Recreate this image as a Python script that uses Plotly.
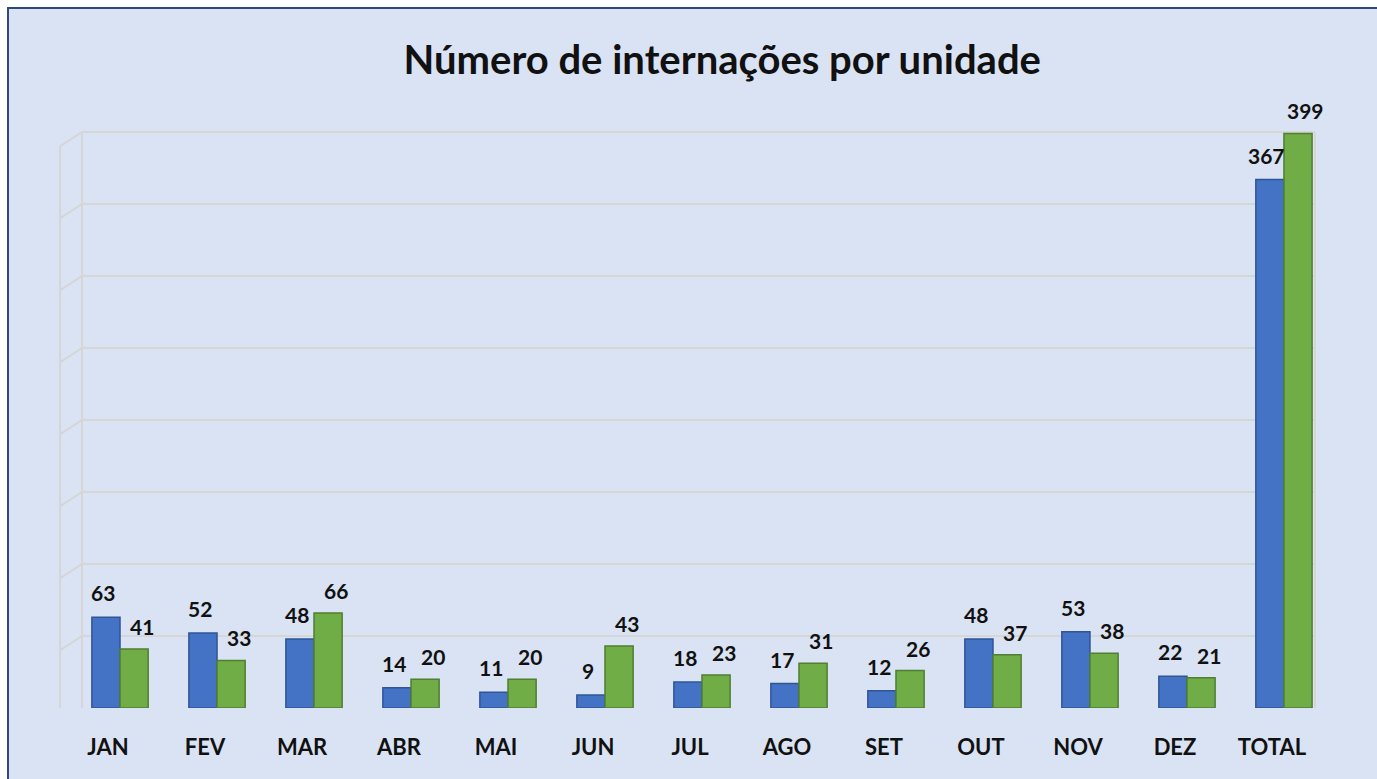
import plotly.graph_objects as go

categories = ["JAN", "FEV", "MAR", "ABR", "MAI", "JUN", "JUL", "AGO", "SET", "OUT", "NOV", "DEZ", "TOTAL"]
serie_azul = [63, 52, 48, 14, 11, 9, 18, 17, 12, 48, 53, 22, 367]
serie_verde = [41, 33, 66, 20, 20, 43, 23, 31, 26, 37, 38, 21, 399]
grid_values = [0, 50, 100, 150, 200, 250, 300, 350, 400]

W, H = 1377, 779
ML, MR, MT, MB = 82, 62, 96, 71
PW, PH = W - ML - MR, H - MT - MB

label_font = dict(family="Lato", size=21, color="#111111", weight="bold")

fig = go.Figure()
fig.add_trace(go.Bar(
    x=categories, y=serie_azul, name="Série 1",
    marker=dict(color="#4472c4", line=dict(color="#2f5597", width=1.5)),
))
fig.add_trace(go.Bar(
    x=categories, y=serie_verde, name="Série 2",
    marker=dict(color="#70ad47", line=dict(color="#507e32", width=1.5)),
))

annotations = []
for cat, v in zip(categories, serie_azul):
    annotations.append(dict(x=cat, y=v, xref="x", yref="y", text=str(v), showarrow=False,
                            xanchor="center", yanchor="bottom", xshift=-17, yshift=10,
                            font=label_font))
for cat, v in zip(categories, serie_verde):
    annotations.append(dict(x=cat, y=v, xref="x", yref="y", text=str(v), showarrow=False,
                            xanchor="center", yanchor="bottom", xshift=22, yshift=8,
                            font=label_font))

def px_to_paper_x(px):
    return (px - ML) / PW

def px_to_paper_y(py):
    return (H - MB - py) / PH

shapes = [
    dict(type="rect", xref="paper", yref="paper", layer="below",
         x0=px_to_paper_x(8), x1=px_to_paper_x(W + 10),
         y0=px_to_paper_y(H + 10), y1=px_to_paper_y(8),
         fillcolor="#dae3f3", line=dict(color="#2f4a7a", width=2)),
    dict(type="line", xref="paper", yref="y", layer="below",
         x0=0, x1=0, y0=0, y1=400, line=dict(color="#d6d6d6", width=2)),
    dict(type="line", xref="paper", yref="y", layer="below",
         x0=1, x1=1, y0=0, y1=400, line=dict(color="#d6d6d6", width=2)),
    dict(type="line", xref="paper", yref="y", layer="below",
         x0=px_to_paper_x(60), x1=px_to_paper_x(60), y0=-10, y1=390,
         line=dict(color="#d6d6d6", width=2)),
]
for v in grid_values:
    shapes.append(dict(type="line", xref="paper", yref="y", layer="below",
                       x0=0, x1=px_to_paper_x(60), y0=v, y1=v - 10,
                       line=dict(color="#d6d6d6", width=2)))

fig.update_layout(
    width=W, height=H,
    margin=dict(l=ML, r=MR, t=MT, b=MB),
    paper_bgcolor="white",
    plot_bgcolor="rgba(0,0,0,0)",
    barmode="group", bargap=0.42, bargroupgap=0.0,
    showlegend=False,
    title=dict(text="<b>Número de internações por unidade</b>",
               x=0.5245, xanchor="center", y=1 - 60 / H, yanchor="middle",
               font=dict(family="Lato", size=40, color="#111111")),
    shapes=shapes,
    annotations=annotations,
    xaxis=dict(range=[-0.392, 12.32], showgrid=False, showline=False, zeroline=False,
               ticks="", ticklabelshift=-12, ticklabelstandoff=24,
               tickfont=dict(family="Lato", size=22, color="#111111", weight="bold")),
    yaxis=dict(range=[0, 425], tickvals=grid_values, showticklabels=False,
               showgrid=True, gridcolor="#d6d6d6", gridwidth=2,
               zeroline=False, showline=False),
)

fig.write_html("out.html", config={"displayModeBar": False},
               post_script="document.body.style.margin='0';document.body.style.overflow='hidden';")
